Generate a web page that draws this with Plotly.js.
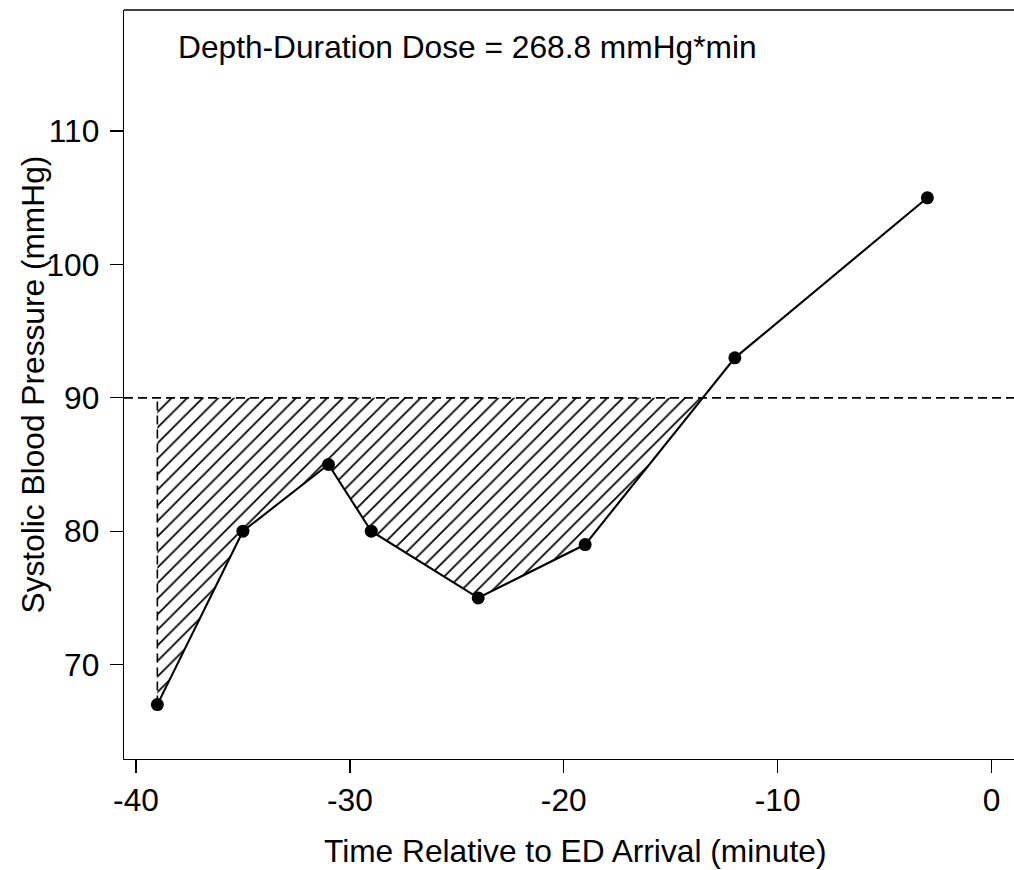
<!DOCTYPE html>
<html>
<head>
<meta charset="utf-8">
<script src="https://cdn.plot.ly/plotly-3.0.1.min.js"></script>
<style>
html, body { margin: 0; padding: 0; background: #ffffff; overflow: hidden; }
#chart { width: 1014px; height: 870px; }
</style>
</head>
<body>
<div id="chart"></div>
<script>
// ---- data ----
const timeMin = [-39, -35, -31, -29, -24, -19, -12, -3];
const sbp = [67, 80, 85, 80, 75, 79, 93, 105];
const threshold = 90;
const doseLabel = "Depth-Duration Dose = 268.8 mmHg*min";
const xTicks = [-40, -30, -20, -10, 0];
const yTicks = [70, 80, 90, 100, 110];
const xTitle = "Time Relative to ED Arrival (minute)";
const yTitle = "Systolic Blood Pressure (mmHg)";

// ---- build hatched region below threshold (from data) ----
const polyX = [timeMin[0]];
const polyY = [threshold];
for (let i = 0; i < timeMin.length; i++) {
  if (sbp[i] <= threshold) { polyX.push(timeMin[i]); polyY.push(sbp[i]); }
  if (i < timeMin.length - 1) {
    const a = sbp[i], b = sbp[i + 1];
    if ((a < threshold && b > threshold) || (a > threshold && b < threshold)) {
      const t = (threshold - a) / (b - a);
      polyX.push(timeMin[i] + t * (timeMin[i + 1] - timeMin[i]));
      polyY.push(threshold);
    }
  }
}
polyX.push(timeMin[0]); polyY.push(threshold);

const FONT = "Liberation Sans, Arial, sans-serif";
const FS = 31.7;

const traces = [
  {
    x: polyX, y: polyY, type: 'scatter', mode: 'lines',
    fill: 'toself', fillcolor: 'rgba(0,0,0,0)',
    fillpattern: { shape: '/', size: 11, solidity: 0.16, fgcolor: '#000000', bgcolor: 'rgba(0,0,0,0)' },
    line: { width: 0 }, hoverinfo: 'skip', showlegend: false
  },
  {
    x: [timeMin[0], timeMin[0]], y: [sbp[0], threshold], type: 'scatter', mode: 'lines',
    line: { color: '#000000', width: 1.6, dash: '9px,5px' }, hoverinfo: 'skip', showlegend: false
  },
  {
    x: timeMin, y: sbp, type: 'scatter', mode: 'lines+markers',
    line: { color: '#000000', width: 2.1 },
    marker: { color: '#000000', size: 13 },
    showlegend: false
  }
];

const layout = {
  width: 1014, height: 870,
  margin: { l: 124, r: 0, t: 10, b: 111 },
  paper_bgcolor: '#ffffff', plot_bgcolor: '#ffffff',
  font: { family: FONT, size: FS, color: '#000000' },
  showlegend: false,
  xaxis: {
    range: [-40.56, 1.05],
    tickvals: xTicks, ticktext: xTicks.map(String),
    ticks: 'outside', ticklen: 13, tickwidth: 1.3, tickcolor: '#000000',
    showline: true, linecolor: '#000000', linewidth: 1.3,
    showgrid: false, zeroline: false,
    tickfont: { family: FONT, size: FS, color: '#000000' }
  },
  yaxis: {
    range: [62.92, 119.08],
    tickvals: yTicks, ticktext: yTicks.map(String),
    ticks: 'outside', ticklen: 13, tickwidth: 1.3, tickcolor: '#000000',
    ticklabelstandoff: 4,
    showline: true, linecolor: '#000000', linewidth: 1.3,
    showgrid: false, zeroline: false,
    tickfont: { family: FONT, size: FS, color: '#000000' }
  },
  shapes: [
    { type: 'line', xref: 'paper', yref: 'y', x0: 0, x1: 1, y0: threshold, y1: threshold,
      line: { color: '#000000', width: 1.6, dash: '9px,5px' } },
    { type: 'line', xref: 'paper', yref: 'paper', x0: 0, x1: 1, y0: 1, y1: 1,
      line: { color: '#000000', width: 1.3 } }
  ],
  annotations: [
    { x: -24.5, y: 116.3, xref: 'x', yref: 'y', text: doseLabel, showarrow: false,
      xanchor: 'center', yanchor: 'middle',
      font: { family: FONT, size: FS, color: '#000000' } },
    // x-axis title (centred on the full R plot region, which is wider than the cropped view)
    { x: 0.5062, y: 0, xref: 'paper', yref: 'paper', yshift: -92, text: xTitle, showarrow: false,
      xanchor: 'center', yanchor: 'middle',
      font: { family: FONT, size: FS, color: '#000000' } },
    // y-axis title
    { x: 0, y: 0.5, xref: 'paper', yref: 'paper', xshift: -92, text: yTitle, showarrow: false,
      textangle: -90, xanchor: 'center', yanchor: 'middle',
      font: { family: FONT, size: FS, color: '#000000' } }
  ]
};

Plotly.newPlot('chart', traces, layout, { displayModeBar: false, staticPlot: true });
</script>
</body>
</html>
